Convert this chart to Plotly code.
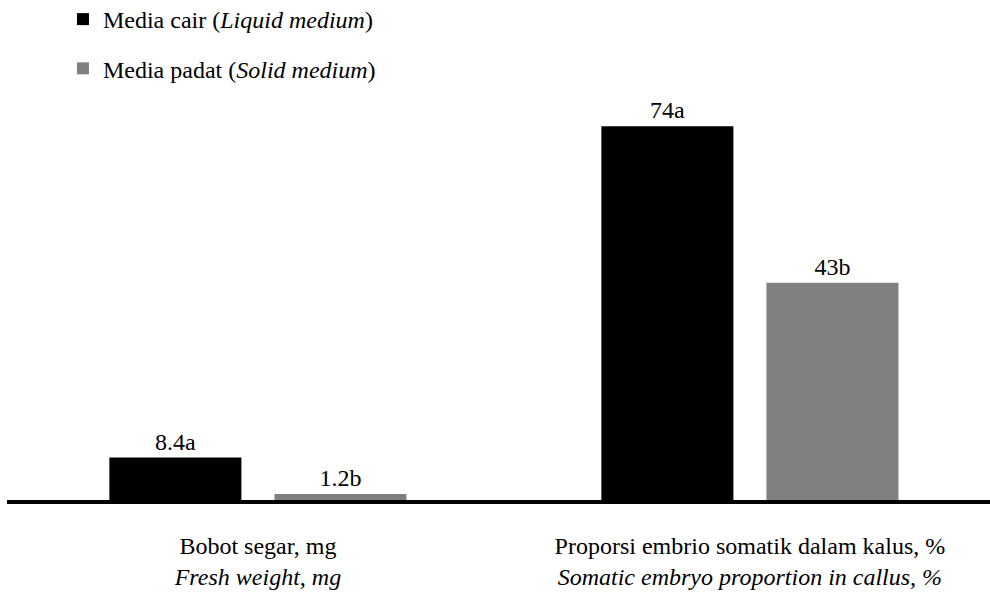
import plotly.graph_objects as go

categories = ["Bobot segar, mg", "Proporsi embrio somatik dalam kalus, %"]
categories_en = ["Fresh weight, mg", "Somatic embryo proportion in callus, %"]
liquid_values = [8.4, 74]
solid_values = [1.2, 43]
liquid_labels = ["8.4a", "74a"]
solid_labels = ["1.2b", "43b"]
series_names = ["Media cair (<i>Liquid medium</i>)", "Media padat (<i>Solid medium</i>)"]

FONT = "Liberation Serif"
FS = 24

tick_text = [f"{a}<br><i>{b}</i>" for a, b in zip(categories, categories_en)]

fig = go.Figure()
fig.add_trace(go.Bar(x=[0, 1], y=liquid_values, name=series_names[0], text=liquid_labels,
                     textposition="outside", marker_color="#000000", marker_line_width=0,
                     textfont=dict(size=FS, color="black", family=FONT), cliponaxis=False,
                     legendgroup="a"))
fig.add_trace(go.Bar(x=[0, 1], y=solid_values, name=series_names[1], text=solid_labels,
                     textposition="outside", marker_color="#808080", marker_line_width=0,
                     textfont=dict(size=FS, color="black", family=FONT), cliponaxis=False,
                     legendgroup="b"))

fig.update_layout(
    width=990, height=594,
    margin=dict(l=7, r=0, t=96, b=94, autoexpand=False),
    paper_bgcolor="white", plot_bgcolor="white",
    font=dict(family=FONT, size=FS, color="black"),
    barmode="group", bargap=0.329, bargroupgap=0.2,
    showlegend=True,
    legend=dict(x=0.0636, y=1.245, xanchor="left", yanchor="top", xref="container", yref="paper",
                traceorder="grouped", tracegroupgap=15, font=dict(size=FS, family=FONT),
                itemwidth=30, bgcolor="rgba(0,0,0,0)"),
)
fig.update_xaxes(range=[-0.510, 1.488], tickmode="array", tickvals=[0, 1], ticktext=tick_text,
                 showline=True, linecolor="black", linewidth=4, ticks="", showgrid=False,
                 zeroline=False, ticklabelstandoff=21, tickfont=dict(size=FS, family=FONT))
fig.update_yaxes(range=[0, 80], visible=False, showgrid=False, zeroline=False)

fig.write_html("out.html", config={"displayModeBar": False},
               post_script="document.body.style.margin='0';document.body.style.overflow='hidden';")
